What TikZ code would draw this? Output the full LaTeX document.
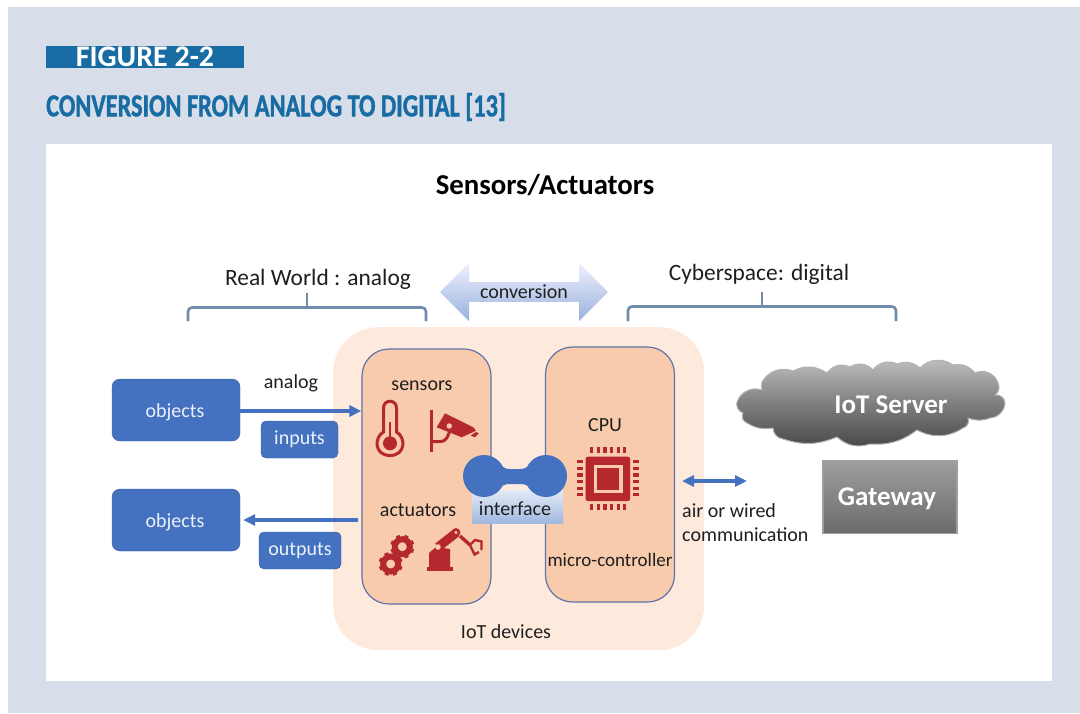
\documentclass[tikz,border=0pt]{standalone}
\usepackage{fontspec}
\setmainfont{Carlito}
\newfontfamily\headfont[FakeStretch=.76, BoldFeatures={FakeBold=1.2}]{Carlito}
\usepackage{xcolor}
\definecolor{Panel}{HTML}{d7dde9}
\definecolor{Head}{HTML}{176ca3}
\definecolor{Peach}{HTML}{fdeadd}
\definecolor{Salmon}{HTML}{f7cbac}
\definecolor{Edge}{HTML}{5f74a8}
\definecolor{Royal}{HTML}{4472c0}
\definecolor{Brick}{HTML}{b5282d}
\definecolor{Bracket}{HTML}{6f8cab}
\colorlet{cText}{black!88}
\usepackage{tikz}
\usetikzlibrary{positioning, arrows.meta, shapes.arrows}
\tikzset{
	label/.style={
		text=cText,
		inner sep=0pt,
		font=\fontsize{20}{20}\selectfont
	},
	big label/.style={
		label,
		font=\fontsize{23.4}{24}\selectfont
	},
	block/.style={
		draw=Royal!85!black,
		fill=Royal,
		rounded corners=8pt,
		inner sep=0pt,
		text=white!90!Royal,
		font=\fontsize{20}{20}\selectfont
	},
	unit/.style={
		draw=Edge,
		line width=1.2pt,
		fill=Salmon,
		rounded corners=27pt,
		minimum width=129pt,
		minimum height=255pt
	},
	signal/.style={
		draw=Royal,
		line width=3.2pt,
		-{Triangle[length=12pt,width=11pt]}
	},
	bracket/.style={
		draw=Bracket,
		line width=2.6pt,
		rounded corners=4pt
	},
	joint/.style={
		circle,
		fill=Royal,
		minimum size=42pt,
		inner sep=0pt
	},
	icon/.style={
		draw=Brick,
		line width=3pt
	},
	pin/.style={
		fill=Brick
	}
}
\newcommand{\gearicon}[2]{
	\draw[icon, line width=6pt] (#1,#2) circle[radius=7.5];
	\foreach \a in {0,45,...,315}
		\draw[icon, line width=4pt] ([shift={(\a+22:9)}]#1,#2) -- ([shift={(\a+22:12)}]#1,#2);
}

\begin{document}
\begin{tikzpicture}[x=1pt, y=-1pt]
\path[use as bounding box, fill=white] (0,0) rectangle (1080,713);
\fill[Panel] (8,7) rectangle (1080,713);
\fill[white] (46,144) rectangle (1052,681);

% ---
% heading
% ---
\node[fill=Head, minimum width=198pt, minimum height=22pt, inner sep=0pt, anchor=north west] (fig-bar) at (46,46) {};
\node[text=white, inner sep=0pt, font=\fontsize{30}{30}\selectfont\bfseries] (fig-no) at (145,57) {FIGURE 2-2};
\node[text=Head, inner sep=0pt, anchor=west, font=\fontsize{32}{32}\headfont\bfseries] (fig-title) at (46,107) {CONVERSION FROM ANALOG TO DIGITAL [13]};

% ---
% top labels
% ---
\node[label, font=\fontsize{28.8}{29}\selectfont\bfseries, text=black] (title) at (545,185) {Sensors/Actuators};
\node[big label] (real) at (318,279) {Real World : analog};
\node[big label] (cyber) at (759,274) {Cyberspace: digital};
\draw[bracket] (188,321) |- (426,307.5) -- (426,321);
\draw[bracket, rounded corners=0pt] (307,293) -- (307,307.5);
\draw[bracket] (628,321) |- (896,306.5) -- (896,321);
\draw[bracket, rounded corners=0pt] (762,292) -- (762,306.5);
\node[double arrow, shape border rotate=0, double arrow tip angle=90, double arrow head extend=14pt, double arrow head indent=0pt,
	minimum height=168pt, minimum width=58pt, inner sep=0pt, top color=blue!6!white, bottom color=Royal!55!white, label, font=\fontsize{20}{20}\selectfont] (conv) at (524,292) {conversion};

% ---
% IoT device
% ---
\node[fill=Peach, rounded corners=45pt, minimum width=371pt, minimum height=323pt, anchor=north west] (device) at (333,327) {};
\node[unit] (left-unit) at (426.5,476.5) {};
\node[unit] (right-unit) at (610,474.5) {};
\node[label] (dev-label) at (506,632) {IoT devices};
\node[label] (sensors) at (422,386) {sensors};
\node[label] (actuators) at (418,510) {actuators};
\node[label] (cpu) at (605,425) {CPU};
\node[label, font=\fontsize{19}{19}\selectfont] (micro) at (610,560) {micro-controller};

% interface
\node[fill=none, minimum width=91pt, minimum height=33pt, inner sep=0pt, top color=white!85!Royal, bottom color=Royal!50!white] (iface) at (517.5,506.5) {};
\node[label] (iface-label) at (515,509) {interface};
\node[joint] (if-l) at (484,476) {};
\node[joint] (if-r) at (546,476) {};
\draw[Royal, line width=15pt] (if-l) -- (if-r);
\fill[Royal] (497,460) .. controls (501,467) and (505,469) .. (510,469) -- (520,469) .. controls (525,469) and (529,467) .. (533,460) -- (533,492) .. controls (529,485) and (525,484) .. (520,484) -- (510,484) .. controls (505,484) and (501,485) .. (497,492) -- cycle;

% ---
% icons
% ---
% thermometer
\draw[icon] (383.5,432) -- (383.5,408) .. controls (383.5,399) and (396.5,399) .. (396.5,408) -- (396.5,432) .. controls (406,437) and (406,455.5) .. (390,455.5) .. controls (374,455.5) and (374,437) .. (383.5,432) -- cycle;
\fill[Brick] (390,443.3) circle[radius=7];
\draw[icon, line width=2pt] (390,422) -- (390,443);
% camera
\draw[icon, line width=3.4pt] (431.5,410) -- (431.5,452);
\draw[icon] (431.5,441.7) -- (440,441.7) .. controls (446,441.7) and (449,436) .. (450,428);
\fill[Brick] (436.7,427.3) -- (445,413.3) -- (473.3,427.3) -- (476,430.7) -- (461.7,437.3) -- cycle;
\fill[Brick] (470.7,435.5) -- (476,432) -- (478.7,433.3) -- (475,437.3) -- cycle;
\fill[Salmon] (449.3,426) circle[radius=2.7];
% gears
\gearicon{402.3}{546.7}
\gearicon{390.7}{564}
% robot arm
\fill[Brick] (426.7,567) rectangle (453.3,571);
\fill[Brick] (429,567.3) -- (429,553) -- (436,547) -- (450,549) -- (450,567.3) -- cycle;
\draw[icon, line width=9pt] (438,547) -- (456,533);
\fill[Salmon] (438,547) circle[radius=2.8];
\draw[icon, line width=2.6pt, fill=Salmon] (456,532.5) circle[radius=3];
\draw[icon, line width=3.4pt] (460,536) -- (470,545);
\draw[icon, line width=2.4pt] (470,545) -- (475,540) -- (481.5,541.5) -- (481.5,550);
\draw[icon, line width=2.4pt] (470,545) -- (474.5,554.5) -- (479,552);
% chip
\fill[Brick, rounded corners=2pt] (585.7,456.7) rectangle (630,501);
\draw[Salmon, line width=3.2pt] (595.6,466.6) rectangle (621,491.6);
\foreach \i in {0,...,5} {
	\fill[pin] (590.2+\i*6.6,447.3) rectangle +(3.2,6);
	\fill[pin] (590.2+\i*6.6,504) rectangle +(3.2,6);
	\fill[pin] (576.7,460.2+\i*6.6) rectangle +(6,3.2);
	\fill[pin] (633.3,460.2+\i*6.6) rectangle +(6,3.2);
}

% ---
% objects and signals
% ---
\node[block, minimum width=128pt, minimum height=62pt] (obj-in) at (176,410) {};
\node[block, minimum width=128pt, minimum height=62pt] (obj-out) at (176,520) {};
\node[block, draw=none, fill=none, rounded corners=0pt] (obj-in-label) at (175,412) {objects};
\node[block, draw=none, fill=none, rounded corners=0pt] (obj-out-label) at (175,522) {objects};
\node[block, rounded corners=5pt, minimum width=77pt, minimum height=37pt] (inputs) at (299.5,439.5) {\raisebox{-1pt}{inputs}};
\node[block, rounded corners=5pt, minimum width=82pt, minimum height=37pt] (outputs) at (300,550.5) {\raisebox{-1pt}{outputs}};
\node[label] (analog) at (291,383) {analog};
\draw[signal] ([yshift=-1pt]obj-in.east) -- ([yshift=-1pt]left-unit.west |- obj-in.east);
\draw[signal] ([xshift=-3pt]left-unit.west |- obj-out.east) -- ([xshift=3pt]obj-out.east);

% ---
% communication
% ---
\coordinate (air-l) at (682,481);
\coordinate (air-r) at (747,481);
\draw[signal, {Triangle[length=12pt,width=11pt]}-{Triangle[length=12pt,width=11pt]}] (air-l) -- (air-r);
\node[label, anchor=west] (air) at (682,511) {air or wired};
\node[label, anchor=west] (comm) at (682,535) {communication};

% ---
% server and gateway
% ---
\path[draw=black!30, line width=1pt, top color=black!25, bottom color=black!72, middle color=black!50]
	(737,402) to[bend left=45] (762,390) to[bend left=10] (762,382) to[bend left=40] (793,371) to[bend left=30] (827,373)
	to[bend left=40] (850,367) to[bend left=40] (873,370) to[bend left=40] (897,364) to[bend left=30] (920,368)
	to[bend left=40] (953,365) to[bend left=30] (975,373) to[bend left=50] (998,383) to[bend left=40] (995,395)
	to[bend left=50] (1005,403) to[bend left=40] (990,418) to[bend left=20] (968,418) to[bend left=50] (963,428)
	to[bend left=30] (917,430) to[bend left=20] (870,444) to[bend left=30] (837,437) to[bend left=20] (783,439)
	to[bend left=40] (773,428) to[bend left=20] (747,423) to[bend left=50] (743,413) to[bend left=40] (737,402) -- cycle;
\node[text=white, inner sep=0pt, font=\fontsize{27}{27}\selectfont\bfseries] (server) at (891,405) {IoT Server};
\node[draw=black!38, line width=1.4pt, top color=black!38, middle color=black!56, bottom color=black!58, minimum width=134pt, minimum height=73pt, inner sep=0pt] (gateway) at (890,497) {};
\node[text=white, inner sep=0pt, font=\fontsize{27}{27}\selectfont\bfseries] (gate-label) at (887,499) {Gateway};
\end{tikzpicture}
\end{document}
